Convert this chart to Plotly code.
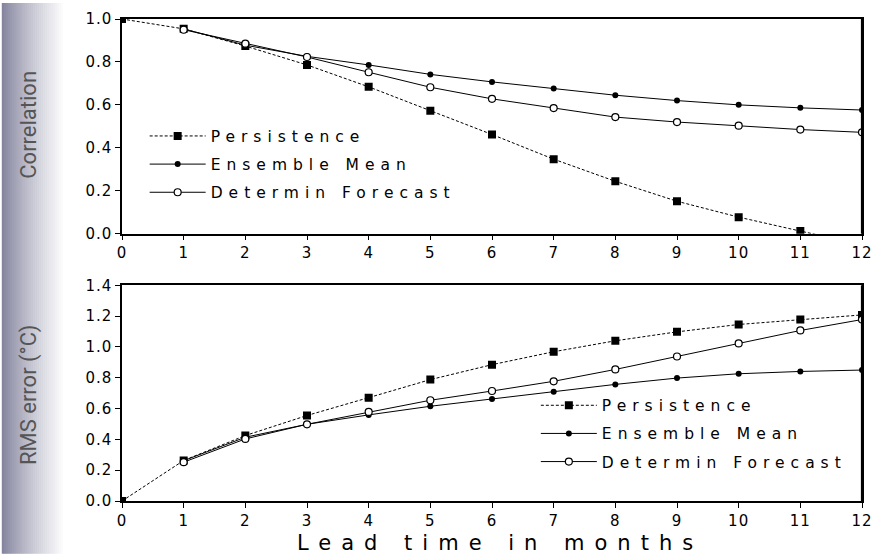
import plotly.graph_objects as go

# ---- data ----
lead_all = [0, 1, 2, 3, 4, 5, 6, 7, 8, 9, 10, 11, 12]
lead_fc = [1, 2, 3, 4, 5, 6, 7, 8, 9, 10, 11, 12]

corr_persistence = [1.0, 0.954, 0.874, 0.786, 0.684, 0.573, 0.462, 0.347, 0.244, 0.151, 0.077, 0.012, -0.05]
corr_ensemble = [0.954, 0.878, 0.826, 0.786, 0.742, 0.707, 0.676, 0.645, 0.620, 0.600, 0.586, 0.576]
corr_determin = [0.950, 0.885, 0.823, 0.752, 0.682, 0.628, 0.585, 0.543, 0.520, 0.503, 0.485, 0.472]

rms_persistence = [0.0, 0.263, 0.425, 0.555, 0.671, 0.788, 0.885, 0.969, 1.040, 1.098, 1.146, 1.178, 1.208]
rms_ensemble = [0.262, 0.414, 0.498, 0.559, 0.615, 0.662, 0.710, 0.757, 0.798, 0.826, 0.841, 0.850]
rms_determin = [0.252, 0.403, 0.498, 0.578, 0.654, 0.714, 0.777, 0.854, 0.938, 1.023, 1.107, 1.178]

names = ["Persistence", "Ensemble Mean", "Determin Forecast"]
x_ticks = list(range(0, 13))
corr_ticks = [0.0, 0.2, 0.4, 0.6, 0.8, 1.0]
rms_ticks = [0.0, 0.2, 0.4, 0.6, 0.8, 1.0, 1.2, 1.4]

W, H = 883, 554
ML, MR, MT, MB = 122, 10, 16, 53
PW = W - ML - MR
PH = H - MT - MB

def sp(t, ls=3):
    return '<span style="letter-spacing:%dpx">%s</span>' % (ls, t)

fig = go.Figure()

styles = [
    dict(line=dict(color="black", width=1, dash="3px,2px"),
         marker=dict(symbol="square", size=8, color="black")),
    dict(line=dict(color="black", width=1),
         marker=dict(symbol="circle", size=6, color="black")),
    dict(line=dict(color="black", width=1),
         marker=dict(symbol="circle", size=7, color="white", line=dict(color="black", width=1.2))),
]

top_series = [(lead_all, corr_persistence), (lead_fc, corr_ensemble), (lead_fc, corr_determin)]
bot_series = [(lead_all, rms_persistence), (lead_fc, rms_ensemble), (lead_fc, rms_determin)]

for i, (xs, ys) in enumerate(top_series):
    fig.add_trace(go.Scatter(x=xs, y=ys, mode="lines+markers", name=sp(names[i], 6),
                             xaxis="x", yaxis="y", legend="legend", legendgroup="t%d" % i,
                             showlegend=True, cliponaxis=True, **styles[i]))
for i, (xs, ys) in enumerate(bot_series):
    fig.add_trace(go.Scatter(x=xs, y=ys, mode="lines+markers", name=sp(names[i], 6),
                             xaxis="x2", yaxis="y2", legend="legend2", legendgroup="b%d" % i,
                             showlegend=True, cliponaxis=True, **styles[i]))

top_lo = (H - MB - 232) / PH
bot_hi = (H - MB - 284) / PH

tickfont = dict(family="DejaVu Sans", size=15, color="black")
axis_common = dict(showline=True, linecolor="black", linewidth=1.5, mirror=True,
                   ticks="outside", ticklen=5, tickwidth=1.2, tickcolor="black",
                   showgrid=False, zeroline=False, tickfont=tickfont)

legfont = dict(family="DejaVu Sans", size=15.5, color="black")
fig.update_layout(
    width=W, height=H,
    margin=dict(l=ML, r=MR, t=MT, b=MB),
    paper_bgcolor="white", plot_bgcolor="white",
    xaxis=dict(domain=[0, 1], range=[0, 12], anchor="y",
               tickvals=x_ticks, ticktext=[sp(str(v), 1) for v in x_ticks], **axis_common),
    yaxis=dict(domain=[top_lo, 1], range=[0, 1.0], anchor="x",
               tickvals=corr_ticks, ticktext=[sp("%.1f" % v, 1) for v in corr_ticks], **axis_common),
    xaxis2=dict(domain=[0, 1], range=[0, 12], anchor="y2", ticklabelstandoff=0,
                tickvals=x_ticks, ticktext=[sp(str(v), 1) for v in x_ticks], **axis_common),
    yaxis2=dict(domain=[0, bot_hi], range=[0, 1.4], anchor="x2",
                tickvals=rms_ticks, ticktext=[sp("%.1f" % v, 1) for v in rms_ticks], **axis_common),
    legend=dict(x=(145 - ML) / PW, y=(H - MB - 117) / PH, xanchor="left", yanchor="top",
                bgcolor="rgba(0,0,0,0)", borderwidth=0, tracegroupgap=5,
                font=legfont, itemwidth=56),
    legend2=dict(x=(542 - ML) / PW, y=(H - MB - 388) / PH, xanchor="left", yanchor="top",
                 bgcolor="rgba(0,0,0,0)", borderwidth=0, tracegroupgap=5,
                 font=legfont, itemwidth=56),
    showlegend=True,
)

# left gradient band
shapes = []
n = 32
for k in range(n):
    x0 = k * 2
    t = k / (n - 1)
    f = t ** 0.85
    r = int(132 + (255 - 132) * f)
    g = int(132 + (255 - 132) * f)
    b = int(158 + (255 - 158) * f)
    shapes.append(dict(type="rect", xref="paper", yref="paper",
                       x0=(x0 - ML) / PW, x1=(x0 + 2.5 - ML) / PW,
                       y0=-MB / PH, y1=(H - MB) / PH,
                       fillcolor="rgb(%d,%d,%d)" % (r, g, b), line=dict(width=0), layer="below"))
# heavier right frame line
for (yr, xr) in [("y domain", "x"), ("y2 domain", "x2")]:
    shapes.append(dict(type="line", xref=xr, yref=yr, x0=12, x1=12, y0=0, y1=1,
                       line=dict(color="black", width=2.2)))
fig.update_layout(shapes=shapes)

ytitle_font = dict(family="Roboto, DejaVu Sans, sans-serif", size=22, color="#555555")
fig.add_annotation(text="Correlation", xref="paper", yref="paper",
                   x=(27 - ML) / PW, y=(H - MB - 122) / PH, xanchor="center", yanchor="middle",
                   textangle=-90, showarrow=False, font=ytitle_font)
fig.add_annotation(text="RMS error (°C)", xref="paper", yref="paper",
                   x=(27 - ML) / PW, y=(H - MB - 394) / PH, xanchor="center", yanchor="middle",
                   textangle=-90, showarrow=False, font=ytitle_font)
fig.add_annotation(text=sp("Lead time in months", 10), xref="paper", yref="paper",
                   x=(506 - ML) / PW, y=(H - MB - 543) / PH, xanchor="center", yanchor="middle",
                   showarrow=False,
                   font=dict(family="DejaVu Sans", size=21, color="black"))

fig.write_html("out.html")
